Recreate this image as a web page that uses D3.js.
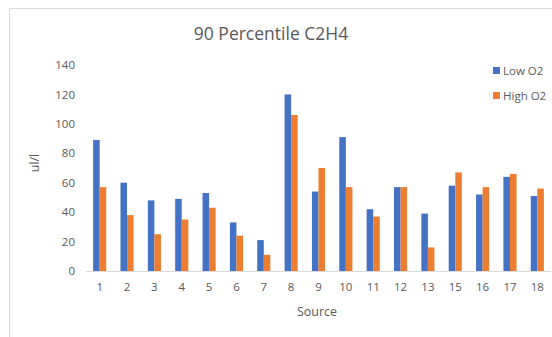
<!DOCTYPE html>
<html>
<head>
<meta charset="utf-8">
<script src="https://cdn.jsdelivr.net/npm/d3@7"></script>
<style>
  html, body { margin: 0; padding: 0; background: #fff; }
  svg { display: block; font-family: "Open Sans", "Noto Sans", sans-serif; }
</style>
</head>
<body>
<svg id="chart" width="552" height="337"></svg>
<script>
// Source identifiers (14 is not present)
const sources = ["1","2","3","4","5","6","7","8","9","10","11","12","13","15","16","17","18"];
const lowO2  = [89, 60, 48, 49, 53, 33, 21, 120, 54, 91, 42, 57, 39, 58, 52, 64, 51];
const highO2 = [57, 38, 25, 35, 43, 24, 11, 106, 70, 57, 37, 57, 16, 67, 57, 66, 56];
const seriesNames = ["Low O2", "High O2"];
const seriesColors = ["#4472C4", "#ED7D31"];
const yTicks = [0, 20, 40, 60, 80, 100, 120, 140];

const svg = d3.select("#chart");
const W = 552, H = 337;

// chart area frame
svg.append("path")
  .attr("d", `M9.5,${H} V8.5 H${W}`)
  .attr("fill", "none")
  .attr("stroke", "#d9d9d9")
  .attr("stroke-width", 1);

const plot = { left: 86, right: 551, top: 65, bottom: 271 };

const x = d3.scaleBand().domain(sources).range([plot.left, plot.right]).paddingInner(0.52).paddingOuter(0.26);
const xs = d3.scaleBand().domain(seriesNames).range([0, x.bandwidth()]);
const y = d3.scaleLinear().domain([0, 140]).range([plot.bottom, plot.top]);

// title
svg.append("text")
  .attr("x", 271).attr("y", 40)
  .attr("text-anchor", "middle")
  .attr("font-size", 17.5)
  .attr("fill", "#595959")
  .text("90 Percentile C2H4");

// y axis labels
const yAxis = d3.axisLeft(y).tickValues(yTicks).tickSize(0).tickPadding(0);
const gy = svg.append("g").attr("transform", `translate(75,0)`).call(yAxis);
gy.select(".domain").remove();
gy.selectAll("text").attr("fill", "#595959").attr("font-size", 11.5)
  .attr("font-family", "\"Open Sans\", sans-serif");

// bars
const data = sources.map((s, i) => ({ source: s, values: [lowO2[i], highO2[i]] }));
const groups = svg.append("g").selectAll("g").data(data).join("g")
  .attr("transform", d => `translate(${x(d.source)},0)`);
groups.selectAll("rect")
  .data(d => d.values.map((v, k) => ({ v, k })))
  .join("rect")
  .attr("x", d => xs(seriesNames[d.k]))
  .attr("width", xs.bandwidth())
  .attr("y", d => y(d.v))
  .attr("height", d => y(0) - y(d.v))
  .attr("fill", d => seriesColors[d.k]);

// x axis
const xAxis = d3.axisBottom(x).tickSize(0).tickPadding(0);
const gx = svg.append("g").attr("transform", `translate(0,${plot.bottom})`).call(xAxis);
gx.select(".domain").attr("stroke", "#d9d9d9").attr("d", `M${plot.left},0.5H${plot.right}`);
gx.selectAll("text").attr("fill", "#595959").attr("font-size", 11.5)
  .attr("dy", "1.75em")
  .attr("font-family", "\"Open Sans\", sans-serif");

// axis titles
svg.append("text")
  .attr("x", 317).attr("y", 316)
  .attr("text-anchor", "middle")
  .attr("font-size", 12.5)
  .attr("fill", "#595959")
  .text("Source");

svg.append("text")
  .attr("transform", "translate(39,163) rotate(-90)")
  .attr("text-anchor", "middle")
  .attr("font-size", 12.5)
  .attr("fill", "#595959")
  .text("ul/l");

// legend
const legend = svg.append("g").selectAll("g").data(seriesNames).join("g")
  .attr("transform", (d, i) => `translate(493,${71 + i * 25})`);
legend.append("rect").attr("x", 0).attr("y", -4).attr("width", 7).attr("height", 7)
  .attr("fill", (d, i) => seriesColors[i]);
legend.append("text").attr("x", 10).attr("y", 4)
  .attr("font-size", 11.5).attr("fill", "#595959").text(d => d);
</script>
</body>
</html>
